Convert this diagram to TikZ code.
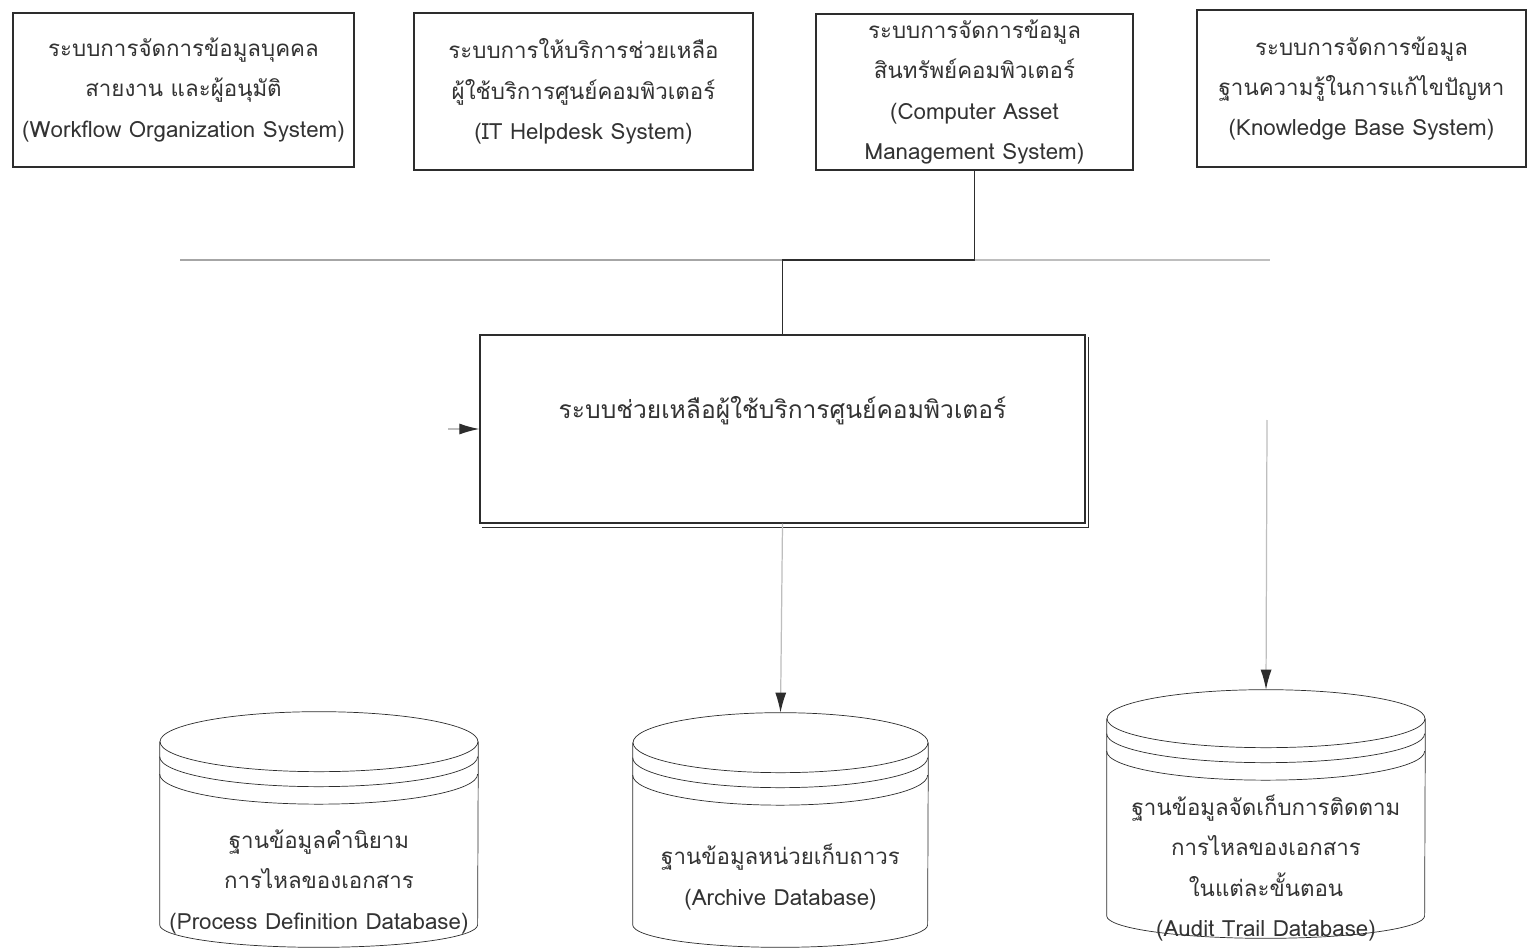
\documentclass[tikz,border=0pt]{standalone}
\usepackage{fontspec}
\usetikzlibrary{arrows.meta,positioning}
\newfontfamily\thaifont[Script=Thai]{Loma}
\definecolor{ink}{RGB}{45,45,45}
\definecolor{faint}{RGB}{190,190,190}
\newcommand{\drum}[3]{%
 \draw[ink] ([yshift=-#3]#1.north west) -- ([yshift=0.45cm]#1.south west)
   arc[start angle=180,end angle=360,x radius=#2,y radius=0.45cm] -- ([yshift=-#3]#1.north east);
 \draw[ink] ([yshift=-#3]#1.north) ellipse[x radius=#2,y radius=#3];
 \foreach \gap in {0.3cm,0.65cm}
  \draw[ink] ([yshift=-#3-\gap]#1.north west) arc[start angle=180,end angle=360,x radius=#2,y radius=#3];}

\begin{document}
\begin{tikzpicture}[x=0.02cm,y=-0.02cm,>={Latex[length=4mm,width=2.2mm,color=ink]},
  every node/.style={font=\thaifont\fontsize{12.7}{23}\selectfont,text=black!80,align=center},
  sysbox/.style={draw=ink,line width=0.8pt,inner sep=0pt},
  dbbody/.style={inner sep=0pt},
  faintline/.style={draw=faint,line width=0.7pt}]
\path[use as bounding box,fill=white] (0,0) rectangle (1527,949);
% top row of systems
\node[sysbox,minimum width=6.82cm,minimum height=3.08cm] (wfos) at (183.5,90) {ระบบการจัดการข้อมูลบุคคล\\สายงาน และผู้อนุมัติ\\(Workflow Organization System)};
\node[sysbox,minimum width=6.78cm,minimum height=3.14cm] (ithd) at (583.5,91.5) {ระบบการให้บริการช่วยเหลือ\\ผู้ใช้บริการศูนย์คอมพิวเตอร์\\(IT Helpdesk System)};
\node[sysbox,minimum width=6.34cm,minimum height=3.12cm] (cams) at (974.5,92) {ระบบการจัดการข้อมูล\\สินทรัพย์คอมพิวเตอร์\\(Computer Asset\\Management System)};
\node[sysbox,minimum width=6.58cm,minimum height=3.14cm] (kbs) at (1361.5,88.5) {ระบบการจัดการข้อมูล\\ฐานความรู้ในการแก้ไขปัญหา\\(Knowledge Base System)};
% helpdesk system
\node[sysbox,font=\thaifont\fontsize{14}{23}\selectfont,minimum width=12.1cm,minimum height=3.76cm,text height=0.4cm,text depth=0.84cm] (hdsys) at (782.5,429) {ระบบช่วยเหลือผู้ใช้บริการศูนย์คอมพิวเตอร์};
\draw[ink,line width=0.8pt] ([shift={(3,4)}]hdsys.south west) -| ([shift={(3,3)}]hdsys.north east);
% databases
\node[dbbody,minimum width=6.36cm,minimum height=4.7cm] (pddb) at (319,829.5) {};
\node[dbbody,minimum width=5.9cm,minimum height=4.68cm] (ardb) at (780.5,830) {};
\node[dbbody,minimum width=6.36cm,minimum height=4.96cm] (atdb) at (1266,814) {};
\drum{pddb}{3.18cm}{0.6cm}
\drum{ardb}{2.95cm}{0.6cm}
\drum{atdb}{3.18cm}{0.58cm}
\node (pdtxt) at (319,882) {ฐานข้อมูลคำนิยาม\\การไหลของเอกสาร\\(Process Definition Database)};
\node (artxt) at (780.5,877) {ฐานข้อมูลหน่วยเก็บถาวร\\(Archive Database)};
\node (attxt) at (1266,868) {ฐานข้อมูลจัดเก็บการติดตาม\\การไหลของเอกสาร\\ในแต่ละขั้นตอน\\(Audit Trail Database)};
% links
\coordinate (busL) at (180,260);
\coordinate (busR) at (1270,260);
\coordinate (inL) at (448,429);
\coordinate (inR) at (1267,420);
\draw[faintline,draw=gray!70] (busL) -- (hdsys.north |- busL);
\draw[faintline] (cams.south |- busR) -- (busR);
\draw[ink,line width=0.7pt] (cams.south) |- (hdsys.north |- busL) -- (hdsys.north);
\draw[faintline,->] (inL) -- (hdsys.west);
\draw[faintline,->] (hdsys.south) -- (ardb.north);
\draw[faintline,->] (inR) -- (atdb.north);
\end{tikzpicture}
\end{document}
